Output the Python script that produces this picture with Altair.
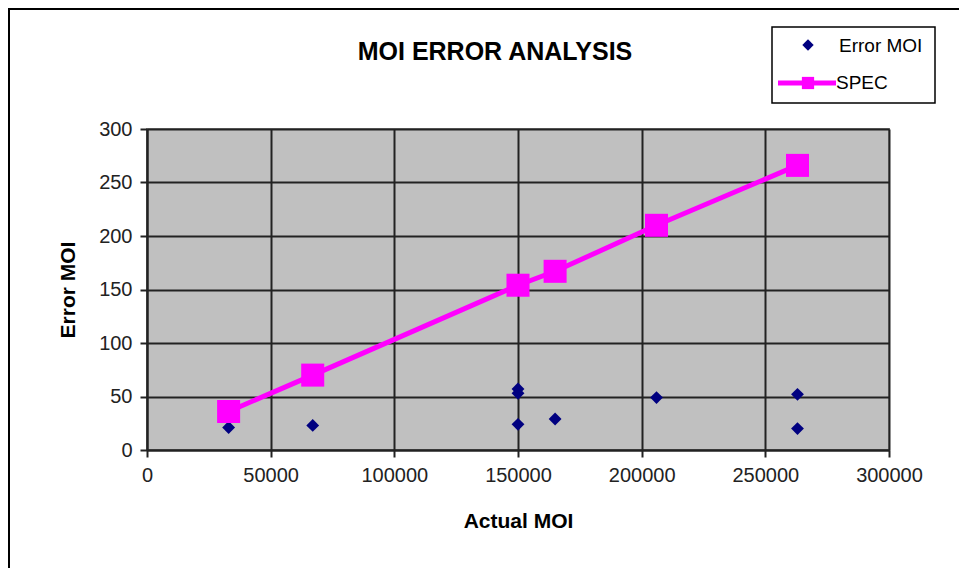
import altair as alt
import pandas as pd

# Data
err_x = [33000, 67000, 150000, 150000, 150000, 165000, 206000, 263000, 263000]
err_y = [21, 23, 57, 53, 24, 29, 49, 52, 20]
spec_x = [33000, 67000, 150000, 165000, 206000, 263000]
spec_y = [36, 70, 154, 167, 210, 266]
x_ticks = [0, 50000, 100000, 150000, 200000, 250000, 300000]
y_ticks = [0, 50, 100, 150, 200, 250, 300]
legend_labels = ["Error MOI", "SPEC"]

err_df = pd.DataFrame({"x": err_x, "y": err_y})
spec_df = pd.DataFrame({"x": spec_x, "y": spec_y})

FONT = "Liberation Sans"
W, H = 742, 321

xs = alt.Scale(domain=[0, 300000], nice=False)
ys = alt.Scale(domain=[0, 300], nice=False)

xenc = alt.X("x:Q", scale=xs, title="Actual MOI",
             axis=alt.Axis(values=x_ticks, format="d", labelFlush=False))
yenc = alt.Y("y:Q", scale=ys, title="Error MOI",
             axis=alt.Axis(values=y_ticks, labelFlush=False))

points = alt.Chart(err_df).mark_point(
    shape="diamond", filled=True, color="#000080", size=165, opacity=1
).encode(x=xenc, y=yenc)

spec_line = alt.Chart(spec_df).mark_line(color="#FF00FF", strokeWidth=5).encode(
    x=alt.X("x:Q", scale=xs), y=alt.Y("y:Q", scale=ys))
spec_pts = alt.Chart(spec_df).mark_point(
    shape="square", filled=True, color="#FF00FF", size=530, opacity=1
).encode(x=alt.X("x:Q", scale=xs), y=alt.Y("y:Q", scale=ys))

# Decorations: outer frame, title, legend
one = pd.DataFrame({"a": [0]})
frame = alt.Chart(one).mark_rect(fill=None, stroke="black", strokeWidth=4).encode(
    x=alt.value(-139), x2=alt.value(900), y=alt.value(-121), y2=alt.value(600))
title = alt.Chart(one).mark_text(
    text="MOI ERROR ANALYSIS", font=FONT, fontSize=25, fontWeight="bold",
    color="black", align="center", baseline="middle"
).encode(x=alt.value(348), y=alt.value(-77))

leg_box = alt.Chart(one).mark_rect(fill="white", stroke="black", strokeWidth=1.5).encode(
    x=alt.value(625), x2=alt.value(788), y=alt.value(-102), y2=alt.value(-26))
leg_diamond = alt.Chart(one).mark_point(
    shape="diamond", filled=True, color="#000080", size=130, opacity=1
).encode(x=alt.value(661), y=alt.value(-84))
leg_t1 = alt.Chart(one).mark_text(
    text=legend_labels[0], font=FONT, fontSize=19, align="left", baseline="middle", color="black"
).encode(x=alt.value(692), y=alt.value(-83))
leg_line = alt.Chart(one).mark_rule(color="#FF00FF", strokeWidth=5).encode(
    x=alt.value(631), x2=alt.value(689), y=alt.value(-46))
leg_sq = alt.Chart(one).mark_point(
    shape="square", filled=True, color="#FF00FF", size=150, opacity=1
).encode(x=alt.value(661), y=alt.value(-46))
leg_t2 = alt.Chart(one).mark_text(
    text=legend_labels[1], font=FONT, fontSize=19, align="left", baseline="middle", color="black"
).encode(x=alt.value(689), y=alt.value(-46))

chart = alt.layer(
    frame, points, spec_line, spec_pts, title,
    leg_box, leg_diamond, leg_t1, leg_line, leg_sq, leg_t2
).properties(
    width=W, height=H,
    autosize=alt.AutoSizeParams(type="none"),
    padding={"left": 139, "top": 121, "right": 70, "bottom": 118},
    background="white",
).configure_view(
    fill="#C0C0C0", stroke="#808080", strokeWidth=2
).configure_axis(
    grid=True, gridColor="#222222", gridWidth=2, gridOpacity=1,
    domainColor="#222222", domainWidth=2,
    tickColor="#222222", tickSize=7, tickWidth=2,
    labelFont=FONT, labelFontSize=20, labelColor="#222222",
    titleFont=FONT, titleFontSize=21, titleFontWeight="bold", titleColor="black",
).configure_axisX(
    labelPadding=8, titlePadding=25
).configure_axisY(
    labelPadding=8, titlePadding=20
)

chart.save("out.html", embed_options={"renderer": "svg", "actions": False})
